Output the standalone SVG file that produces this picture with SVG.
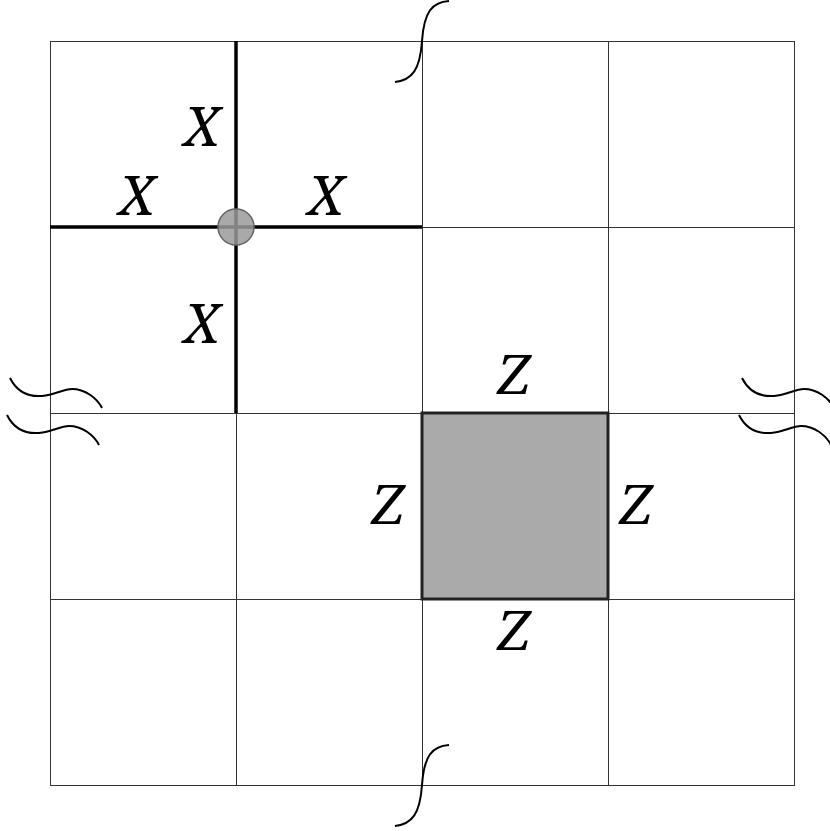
<svg xmlns="http://www.w3.org/2000/svg" width="830" height="831" viewBox="0 0 830 831">
<style>
.grid{stroke:#333;stroke-width:1;fill:none}
.thick{stroke:#000;stroke-width:3.5;fill:none}
.wave{stroke:#000;stroke-width:2;fill:none}
.lbl{font-family:"Noto Serif","Liberation Serif","DejaVu Serif",serif;font-style:italic;font-size:55px;fill:#000;text-anchor:middle}
</style>
<defs>
<path id="wv" d="M10,378 C17,392 28,397 42,396 C55,395 63,389 72,389 C85,389 97,398 102,408"/>
<path id="ig" d="M395,82 C412,80 420,70 422,41 C424,12 432,2 449,1"/>
</defs>
<rect width="830" height="831" fill="#fff"/>
<g id="grid" class="grid">
<rect x="50.5" y="41.5" width="744" height="744"/>
<line x1="236.5" y1="41" x2="236.5" y2="785"/>
<line x1="422.5" y1="41" x2="422.5" y2="785"/>
<line x1="608.5" y1="41" x2="608.5" y2="785"/>
<line x1="50" y1="227.5" x2="794" y2="227.5"/>
<line x1="50" y1="413.5" x2="794" y2="413.5"/>
<line x1="50" y1="599.5" x2="794" y2="599.5"/>
</g>
<g id="breaks" class="wave">
<use href="#wv"/>
<use href="#wv" transform="translate(-3,37)"/>
<use href="#wv" transform="translate(732,0)"/>
<use href="#wv" transform="translate(729,37)"/>
<use href="#ig"/>
<use href="#ig" transform="translate(0,744)"/>
</g>
<g id="connectors">
<line class="thick" x1="236" y1="41" x2="236" y2="413"/>
<line class="thick" x1="50" y1="227" x2="422" y2="227"/>
</g>
<g id="node-center">
<circle cx="236" cy="227" r="18" fill="#9a9a9a" fill-opacity="0.85" stroke="#666" stroke-width="1.5"/>
</g>
<g id="node-square">
<rect x="422" y="413" width="186" height="186" fill="#aaa" stroke="#222" stroke-width="3"/>
</g>
<g id="labels-x">
<text class="lbl" x="202" y="146">X</text>
<text class="lbl" x="137" y="215">X</text>
<text class="lbl" x="326" y="215">X</text>
<text class="lbl" x="202" y="343">X</text>
</g>
<g id="labels-z">
<text class="lbl" x="514" y="394">Z</text>
<text class="lbl" x="388" y="524">Z</text>
<text class="lbl" x="636" y="524">Z</text>
<text class="lbl" x="514" y="650">Z</text>
</g>
</svg>
